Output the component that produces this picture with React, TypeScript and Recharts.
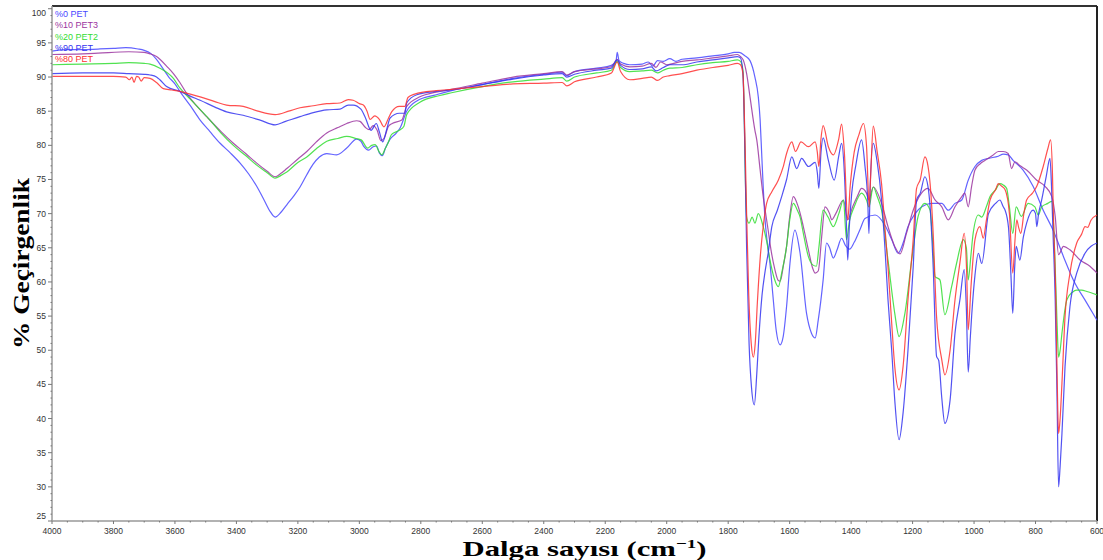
import { LineChart, Line, XAxis, YAxis, Legend, ReferenceLine } from 'recharts';

type Pt = [number, number];

// wavenumber (cm-1), transmittance (%)
const pet0: Pt[] = [
  [4000, 93.8], [3950, 94.0], [3900, 94.0], [3850, 94.1], [3800, 94.2], [3760, 94.3], [3720, 94.1], [3700, 93.9],
  [3680, 93.5], [3660, 92.6], [3640, 91.3], [3620, 90.0], [3600, 89.0], [3584, 87.9], [3550, 85.8], [3518, 83.7],
  [3486, 82.0], [3453, 80.3], [3420, 78.9], [3388, 77.4], [3360, 75.8], [3334, 74.0], [3310, 72.0], [3290, 70.3],
  [3274, 69.5], [3255, 70.2], [3236, 71.3], [3215, 72.5], [3193, 73.9], [3171, 75.7], [3151, 77.2], [3130, 78.3],
  [3106, 78.8], [3074, 78.6], [3041, 79.6], [3009, 80.9], [2995, 80.6], [2985, 79.8], [2970, 79.3], [2955, 79.8],
  [2944, 79.9], [2935, 78.9], [2925, 78.5], [2915, 79.6], [2900, 80.9], [2880, 81.8], [2868, 82.5], [2846, 85.0],
  [2813, 86.5], [2750, 87.4], [2700, 88.0], [2600, 88.9], [2500, 89.8], [2400, 90.4], [2340, 90.7], [2325, 90.2],
  [2300, 90.8], [2228, 91.3], [2180, 91.7], [2165, 92.3], [2161, 93.6], [2155, 92.4], [2140, 92.0], [2120, 91.8],
  [2080, 91.9], [2060, 92.2], [2045, 91.6], [2030, 92.4], [2011, 92.3], [1990, 92.7], [1970, 92.3], [1950, 92.6],
  [1902, 92.8], [1850, 93.1], [1800, 93.4], [1780, 93.6], [1764, 93.6], [1745, 93.1], [1729, 92.4], [1713, 90.0],
  [1702, 87.1], [1696, 83.7], [1691, 78.8], [1686, 73.9], [1680, 69.1], [1672, 65.5], [1664, 62.7], [1654, 57.8],
  [1644, 53.0], [1631, 50.8], [1621, 52.0], [1610, 56.4], [1599, 62.7], [1583, 67.6], [1566, 64.2], [1545, 55.4],
  [1529, 52.5], [1517, 51.8], [1507, 54.4], [1491, 60.3], [1480, 65.7], [1470, 65.0], [1458, 63.5], [1445, 64.8],
  [1431, 66.4], [1418, 65.3], [1405, 64.8], [1390, 65.8], [1370, 67.8], [1355, 69.3], [1322, 69.8], [1290, 68.3],
  [1268, 66.2], [1247, 64.2], [1230, 65.8], [1215, 68.1], [1192, 70.0], [1170, 71.0], [1138, 71.5], [1105, 71.5],
  [1084, 70.5], [1062, 71.5], [1040, 72.0], [1019, 74.9], [997, 76.9], [975, 77.8], [953, 78.1], [921, 78.4],
  [905, 78.7], [889, 78.6], [873, 77.8], [841, 76.4], [808, 74.0], [775, 70.5], [743, 67.6], [709, 63.7],
  [677, 60.3], [633, 56.9], [600, 54.4],
];

const pet10: Pt[] = [
  [4000, 93.3], [3900, 93.4], [3850, 93.5], [3750, 93.7], [3700, 93.6], [3681, 93.4], [3660, 93.0], [3649, 92.6],
  [3625, 91.5], [3605, 90.5], [3584, 89.2], [3562, 87.6], [3530, 85.8], [3497, 84.2], [3450, 82.0], [3410, 80.3],
  [3370, 78.8], [3334, 77.4], [3300, 76.2], [3274, 75.4], [3255, 75.9], [3236, 76.6], [3200, 78.0], [3171, 79.1],
  [3140, 80.5], [3106, 81.8], [3070, 82.6], [3041, 83.2], [3009, 83.6], [2998, 83.5], [2980, 82.6], [2968, 82.3],
  [2955, 82.9], [2942, 82.2], [2930, 80.7], [2920, 81.0], [2905, 82.8], [2893, 83.2], [2862, 83.7], [2846, 85.7],
  [2803, 87.1], [2750, 87.8], [2700, 88.2], [2600, 89.1], [2500, 90.0], [2400, 90.5], [2340, 90.8], [2325, 90.3],
  [2300, 90.8], [2228, 91.2], [2180, 91.5], [2161, 92.6], [2150, 91.9], [2120, 91.5], [2080, 91.6], [2050, 92.0],
  [2035, 91.4], [2020, 92.2], [2000, 91.8], [1950, 92.3], [1902, 92.5], [1850, 92.8], [1800, 93.1], [1770, 93.3],
  [1760, 93.0], [1751, 92.5], [1740, 90.5], [1729, 87.1], [1713, 82.2], [1707, 80.8], [1696, 76.4], [1686, 72.5],
  [1675, 69.1], [1670, 67.6], [1660, 64.5], [1648, 61.8], [1637, 60.2], [1631, 60.1], [1620, 62.5], [1610, 65.2],
  [1600, 69.5], [1588, 72.5], [1572, 71.0], [1555, 68.0], [1539, 64.7], [1525, 62.0], [1517, 61.3], [1507, 61.6],
  [1495, 67.0], [1485, 71.0], [1470, 70.0], [1463, 69.1], [1450, 70.0], [1425, 72.0], [1411, 69.1], [1395, 71.0],
  [1380, 72.5], [1366, 73.7], [1350, 73.0], [1342, 72.0], [1328, 73.9], [1301, 71.5], [1280, 68.1], [1258, 65.2],
  [1241, 64.1], [1220, 67.1], [1198, 70.5], [1171, 73.0], [1150, 73.7], [1127, 72.0], [1105, 71.0], [1084, 69.1],
  [1062, 71.0], [1040, 72.5], [1030, 73.0], [1019, 71.0], [1008, 74.0], [997, 76.4], [980, 77.3], [964, 77.8],
  [940, 78.5], [921, 79.1], [905, 79.1], [889, 78.8], [878, 76.6], [867, 77.6], [850, 77.0], [829, 76.4],
  [796, 74.9], [769, 74.0], [747, 72.5], [736, 69.6], [725, 64.0], [709, 65.2], [688, 64.7], [655, 63.2],
  [623, 62.3], [600, 61.3],
];

const pet20: Pt[] = [
  [4000, 91.8], [3900, 91.9], [3800, 92.0], [3750, 92.1], [3700, 92.0], [3681, 91.9], [3649, 91.3], [3605, 89.8],
  [3584, 88.4], [3551, 86.8], [3486, 83.7], [3450, 81.8], [3410, 80.0], [3370, 78.5], [3334, 77.1], [3300, 76.0],
  [3274, 75.2], [3255, 75.6], [3236, 76.1], [3200, 77.5], [3171, 78.3], [3140, 79.5], [3106, 80.6], [3070, 81.0],
  [3041, 81.3], [3010, 81.0], [2994, 80.8], [2973, 79.6], [2960, 80.0], [2949, 80.1], [2935, 79.0], [2927, 78.6],
  [2915, 79.6], [2907, 80.3], [2895, 81.6], [2870, 82.2], [2855, 82.8], [2846, 84.5], [2803, 86.3], [2738, 87.3],
  [2700, 87.7], [2600, 88.6], [2500, 89.3], [2400, 89.7], [2340, 89.9], [2325, 89.4], [2300, 90.0], [2228, 90.6],
  [2180, 91.0], [2161, 92.3], [2150, 91.4], [2120, 90.8], [2080, 90.9], [2050, 91.0], [2030, 90.6], [2011, 91.0],
  [1990, 91.3], [1950, 91.4], [1902, 91.8], [1850, 92.1], [1800, 92.3], [1770, 92.5], [1760, 92.3], [1752, 91.0],
  [1748, 85.0], [1744, 75.0], [1740, 69.5], [1732, 68.6], [1722, 69.5], [1713, 68.6], [1702, 70.0], [1686, 68.1],
  [1675, 66.0], [1664, 63.2], [1650, 60.5], [1637, 59.3], [1625, 61.5], [1610, 65.2], [1600, 69.0], [1588, 71.5],
  [1575, 70.5], [1566, 69.5], [1555, 67.0], [1539, 63.7], [1525, 62.5], [1513, 62.3], [1505, 65.0], [1491, 70.5],
  [1475, 69.5], [1458, 68.1], [1440, 70.0], [1425, 72.0], [1415, 66.2], [1405, 69.0], [1390, 71.0], [1366, 73.0],
  [1350, 72.0], [1342, 71.0], [1328, 73.9], [1315, 72.5], [1301, 70.5], [1280, 63.2], [1258, 55.4], [1244, 52.0],
  [1225, 55.4], [1203, 63.2], [1182, 69.6], [1160, 71.5], [1143, 70.5], [1135, 66.0], [1127, 60.8], [1111, 60.3],
  [1095, 55.2], [1073, 59.3], [1057, 62.7], [1035, 66.2], [1025, 65.0], [1019, 60.3], [1010, 64.0], [1003, 67.1],
  [986, 69.8], [975, 69.5], [960, 71.0], [948, 72.5], [930, 73.5], [916, 74.4], [905, 74.2], [894, 73.7],
  [885, 71.0], [874, 67.1], [863, 71.0], [846, 69.6], [824, 71.5], [802, 71.0], [791, 69.8], [780, 71.0],
  [760, 71.5], [747, 71.8], [740, 67.0], [736, 62.2], [730, 54.0], [725, 49.0], [720, 50.0], [714, 52.5],
  [698, 57.4], [680, 58.5], [666, 58.8], [650, 58.8], [633, 58.6], [600, 58.1],
];

const pet90: Pt[] = [
  [4000, 90.5], [3900, 90.6], [3800, 90.6], [3750, 90.5], [3700, 90.4], [3681, 90.3], [3660, 90.0], [3649, 89.6],
  [3627, 88.6], [3584, 87.9], [3550, 87.2], [3518, 86.6], [3470, 85.6], [3432, 84.9], [3378, 84.4], [3323, 83.7],
  [3274, 83.0], [3240, 83.5], [3193, 84.2], [3150, 84.8], [3106, 85.2], [3063, 85.3], [3036, 85.9], [3020, 85.9],
  [2995, 85.3], [2980, 84.0], [2962, 82.2], [2945, 83.2], [2935, 82.0], [2924, 80.5], [2910, 82.5], [2900, 84.0],
  [2870, 84.7], [2852, 84.7], [2846, 86.2], [2813, 87.4], [2750, 87.9], [2700, 88.1], [2600, 88.9], [2500, 89.7],
  [2400, 90.3], [2340, 90.5], [2325, 90.0], [2300, 90.4], [2228, 91.0], [2180, 91.3], [2161, 92.5], [2150, 91.7],
  [2120, 91.1], [2080, 91.2], [2050, 91.5], [2035, 90.9], [2011, 91.4], [1990, 91.8], [1950, 91.8], [1902, 92.2],
  [1850, 92.5], [1800, 92.8], [1770, 93.0], [1760, 92.8], [1752, 90.5], [1746, 80.0], [1740, 65.0], [1732, 51.0],
  [1724, 44.5], [1715, 42.0], [1707, 46.5], [1700, 52.0], [1690, 58.0], [1680, 61.5], [1670, 64.2], [1658, 68.1],
  [1640, 70.5], [1626, 72.5], [1610, 75.0], [1593, 78.3], [1577, 76.6], [1561, 78.1], [1539, 76.9], [1517, 77.5],
  [1510, 76.0], [1505, 73.7], [1498, 79.0], [1491, 81.1], [1474, 77.8], [1455, 74.9], [1440, 78.5], [1431, 80.3],
  [1422, 76.0], [1415, 68.0], [1411, 63.2], [1406, 68.0], [1398, 73.0], [1385, 77.0], [1366, 80.8], [1355, 77.0],
  [1346, 72.0], [1342, 67.1], [1338, 74.0], [1328, 80.3], [1315, 77.5], [1301, 72.0], [1290, 65.0], [1280, 57.4],
  [1268, 50.0], [1258, 42.7], [1244, 36.9], [1231, 40.8], [1215, 50.0], [1198, 62.2], [1187, 72.0], [1175, 73.0],
  [1160, 75.4], [1150, 74.0], [1143, 71.0], [1133, 62.2], [1122, 49.1], [1115, 48.5], [1105, 43.0], [1095, 39.3],
  [1078, 42.7], [1062, 52.5], [1046, 57.4], [1032, 61.8], [1025, 56.0], [1019, 46.8], [1012, 52.0], [1008, 54.9],
  [997, 61.0], [986, 64.2], [975, 62.7], [953, 70.0], [930, 71.5], [916, 72.0], [905, 71.0], [899, 70.5],
  [888, 68.0], [880, 61.0], [874, 55.4], [868, 62.0], [863, 65.2], [851, 63.2], [840, 66.5], [829, 68.6],
  [808, 70.5], [800, 70.0], [796, 68.1], [790, 70.0], [780, 72.0], [765, 75.5], [753, 78.1], [748, 74.0],
  [743, 67.1], [736, 57.4], [730, 43.0], [725, 30.0], [720, 33.0], [714, 37.8], [704, 47.6], [688, 56.4],
  [666, 61.3], [639, 64.2], [600, 65.7],
];

const pet80: Pt[] = [
  [4000, 90.1], [3900, 90.1], [3800, 90.1], [3760, 90.0], [3748, 89.6], [3740, 90.0], [3733, 89.2], [3725, 90.1],
  [3718, 90.0], [3710, 89.4], [3700, 89.9], [3681, 89.8], [3660, 89.2], [3638, 88.3], [3610, 88.1], [3584, 87.9],
  [3550, 87.5], [3518, 87.1], [3470, 86.4], [3432, 85.9], [3378, 85.7], [3330, 85.0], [3274, 84.5], [3230, 85.0],
  [3193, 85.5], [3150, 85.8], [3106, 86.1], [3063, 86.2], [3036, 86.7], [3020, 86.6], [3000, 86.1], [2987, 85.9],
  [2975, 85.0], [2965, 83.8], [2950, 84.3], [2935, 83.8], [2920, 82.7], [2905, 84.0], [2895, 84.9], [2870, 85.7],
  [2852, 85.7], [2842, 87.0], [2820, 87.5], [2750, 88.0], [2700, 88.2], [2600, 88.6], [2500, 89.0], [2400, 89.1],
  [2340, 89.2], [2325, 88.7], [2300, 89.3], [2228, 90.0], [2180, 90.6], [2161, 92.2], [2150, 90.8], [2120, 89.6],
  [2080, 89.8], [2050, 90.0], [2030, 89.5], [2011, 90.0], [1990, 90.2], [1950, 90.5], [1902, 91.0], [1850, 91.4],
  [1800, 91.7], [1770, 92.0], [1760, 91.8], [1752, 90.5], [1746, 82.0], [1740, 70.0], [1733, 58.0], [1725, 51.0],
  [1718, 49.0], [1712, 51.0], [1705, 57.0], [1695, 64.0], [1685, 68.5], [1675, 71.5], [1658, 73.2], [1637, 74.9],
  [1620, 77.0], [1610, 78.8], [1593, 80.5], [1581, 79.1], [1563, 80.5], [1539, 79.8], [1517, 80.5], [1510, 79.0],
  [1505, 76.9], [1498, 81.0], [1491, 82.9], [1474, 79.8], [1458, 78.6], [1440, 81.0], [1431, 83.1], [1422, 79.0],
  [1411, 69.1], [1403, 74.0], [1390, 79.0], [1375, 81.5], [1360, 83.2], [1350, 80.0], [1341, 71.0], [1336, 76.0],
  [1328, 82.8], [1315, 79.0], [1301, 74.4], [1290, 68.0], [1280, 62.2], [1268, 54.0], [1258, 47.6], [1244, 44.2],
  [1231, 47.6], [1215, 57.4], [1198, 66.2], [1187, 73.7], [1175, 75.0], [1160, 78.3], [1150, 77.0], [1143, 74.4],
  [1133, 67.1], [1122, 54.9], [1105, 48.6], [1095, 46.4], [1078, 50.0], [1062, 57.4], [1046, 62.8], [1032, 67.1],
  [1024, 61.3], [1019, 53.0], [1010, 59.3], [997, 66.2], [981, 68.1], [970, 66.4], [960, 69.0], [948, 72.0],
  [930, 73.5], [921, 74.4], [910, 74.0], [899, 73.5], [885, 70.0], [874, 61.3], [867, 66.0], [861, 69.1],
  [855, 68.0], [848, 67.1], [838, 70.0], [829, 72.0], [810, 73.0], [796, 74.0], [775, 76.9], [760, 79.5],
  [751, 80.8], [745, 76.0], [743, 72.0], [734, 57.4], [728, 42.0], [725, 37.8], [720, 40.0], [714, 45.2],
  [704, 54.9], [688, 61.3], [666, 65.7], [650, 67.0], [639, 68.1], [630, 68.0], [620, 69.0], [600, 69.8],
];

const seriesNames = ['%0 PET', '%10 PET3', '%20 PET2', '%90 PET', '%80 PET'];
const seriesColors = ['#4848ff', '#9b35a0', '#33dd33', '#3434f0', '#ff3030'];
const seriesPoints = [pet0, pet10, pet20, pet90, pet80];

const xMajorTicks = [4000, 3800, 3600, 3400, 3200, 3000, 2800, 2600, 2400, 2200, 2000, 1800, 1600, 1400, 1200, 1000, 800, 600];
const yMajorTicks = [25, 30, 35, 40, 45, 50, 55, 60, 65, 70, 75, 80, 85, 90, 95, 100];

// minor tick marks between the labelled ones
const xTicks: number[] = [];
for (let w = 4000; w >= 600; w -= 50) xTicks.push(w);
const yTicks: number[] = [];
for (let v = 25; v <= 100; v += 1) yTicks.push(v);

const tickFont = '"Liberation Sans", Arial, sans-serif';
const titleFont = '"Liberation Serif", "Times New Roman", serif';

const XTick = ({ x, y, payload }: any) => {
  const major = xMajorTicks.includes(payload.value);
  return (
    <g>
      <line x1={x} x2={x} y1={y} y2={y + (major ? 3 : 1.5)} stroke="#777" />
      {major && (
        <text x={x} y={y + 13} textAnchor="middle" fontSize={8.5} fill="#333" fontFamily={tickFont}>
          {payload.value}
        </text>
      )}
    </g>
  );
};

const YTick = ({ x, y, payload }: any) => {
  const v = payload.value;
  const major = yMajorTicks.includes(v);
  const shift = v === 100 ? 4 : v === 25 ? -5 : 0;
  return (
    <g>
      <line x1={x - (major ? 4 : 1.5)} x2={x} y1={y} y2={y} stroke="#777" />
      {major && (
        <text x={x - 6} y={y + 3 + shift} textAnchor="end" fontSize={8.5} fill="#333" fontFamily={tickFont}>
          {v}
        </text>
      )}
    </g>
  );
};

const renderLegend = ({ payload }: any) => {
  const items = [...(payload || [])].sort(
    (a: any, b: any) => seriesNames.indexOf(a.value) - seriesNames.indexOf(b.value)
  );
  return (
    <div style={{ fontFamily: tickFont, fontSize: 9 }}>
      {items.map((p: any) => (
        <div key={p.value} style={{ color: p.color, lineHeight: '11.3px', whiteSpace: 'nowrap' }}>
          {p.value}
        </div>
      ))}
    </div>
  );
};

const XTitle = ({ viewBox }: any) => {
  const cx = viewBox.x + viewBox.width / 2 + 10;
  return (
    <text
      x={cx}
      y={556}
      textAnchor="middle"
      fontSize={21}
      fontWeight="bold"
      fill="#000"
      fontFamily={titleFont}
      textLength={244}
      lengthAdjust="spacingAndGlyphs"
    >
      Dalga sayısı (cm
      <tspan dy={-8} fontSize={13}>−1</tspan>
      <tspan dy={8}>)</tspan>
    </text>
  );
};

const YTitle = ({ viewBox }: any) => {
  const cy = viewBox.y + viewBox.height / 2;
  return (
    <text
      x={29}
      y={cy}
      transform={`rotate(-90 29 ${cy})`}
      textAnchor="middle"
      fontSize={23}
      fontWeight="bold"
      fill="#000"
      fontFamily={titleFont}
      textLength={171}
      lengthAdjust="spacingAndGlyphs"
    >
      % Geçirgenlik
    </text>
  );
};

export default function App() {
  return (
    <div style={{ position: 'absolute', left: 0, top: 0, background: '#fff' }}>
      <LineChart width={1103} height={560} margin={{ top: 6, right: 6, bottom: 0, left: 0 }}>
        <XAxis
          type="number"
          dataKey="w"
          domain={[600, 4000]}
          reversed
          ticks={xTicks}
          interval={0}
          tickSize={0}
          tickMargin={0}
          tick={<XTick />}
          height={39}
          axisLine={{ stroke: '#999', strokeWidth: 1.5 }}
          label={{ content: XTitle }}
        />
        <YAxis
          type="number"
          domain={[25, 100.4]}
          ticks={yTicks}
          interval={0}
          tickSize={0}
          tickMargin={0}
          tick={<YTick />}
          width={52}
          axisLine={{ stroke: '#999', strokeWidth: 1.5 }}
          label={{ content: YTitle }}
        />
        <ReferenceLine y={100.4} stroke="#333" strokeWidth={2} />
        <ReferenceLine x={600} stroke="#222" strokeWidth={2} />
        <Legend
          layout="vertical"
          align="center"
          verticalAlign="middle"
          content={renderLegend}
          wrapperStyle={{ left: 55, top: 9, width: 80 }}
        />
        {seriesPoints.map((pts, i) => (
          <Line
            key={seriesNames[i]}
            name={seriesNames[i]}
            data={pts.map(([w, v]) => ({ w, v }))}
            dataKey="v"
            type="monotone"
            stroke={seriesColors[i]}
            strokeWidth={1.2}
            strokeOpacity={0.85}
            dot={false}
            activeDot={false}
            isAnimationActive={false}
          />
        ))}
      </LineChart>
    </div>
  );
}
